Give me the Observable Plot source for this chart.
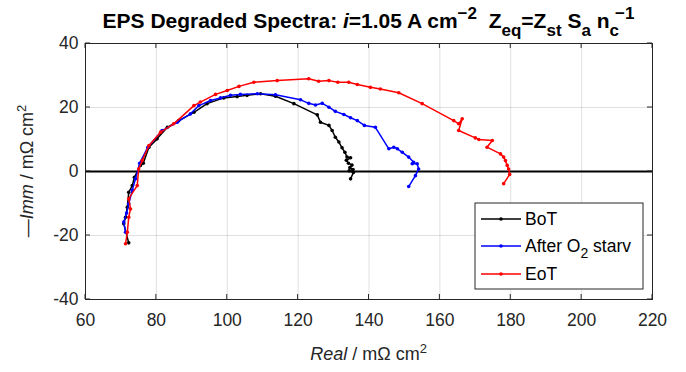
<!DOCTYPE html>
<html>
<head>
<meta charset="utf-8">
<script src="https://cdn.jsdelivr.net/npm/d3@7"></script>
<script src="https://cdn.jsdelivr.net/npm/@observablehq/plot@0.6"></script>
<style>
html,body{margin:0;padding:0;background:#fff;}
#chart{width:686px;height:372px;}
</style>
</head>
<body>
<div id="chart"></div>
<script>
const xTicks = [60, 80, 100, 120, 140, 160, 180, 200, 220];
const yTicks = [-40, -20, 0, 20, 40];
const seriesNames = ["BoT", "After O2 starv", "EoT"];
const seriesColors = ["#000000", "#0000ff", "#ff0000"];

const botX = [72.2,70.8,71.3,71.8,72.2,73.2,73.8,75.5,76.3,77.9,80.2,83.1,86.3,90.6,94.3,99,102.8,105.6,109.4,113.6,118.8,125.4,126.3,128.7,129.6,130.5,131.5,132.4,133.2,133.8,134.8,133.6,134.2,135.2,134.6,135.5,134.4,135.6,134.8];
const botY = [-22.3,-16.3,-14.3,-11.2,-6.5,-4.4,-1.8,1.9,2.6,7.6,10.2,13.8,15.9,18.5,21.2,23,23.4,23.8,24.3,23.5,21.2,17.7,15.4,14.4,12.8,10.7,9.2,7.4,6.0,4.5,4.3,3.5,2.6,2.0,1.2,0.6,0.2,-0.3,-2.3];

const o2X = [71.3,70.8,71.6,72.2,73.2,74.1,75.3,77.6,81.6,85.9,89.6,92,95.3,98.1,100.9,103.7,108.5,113.6,120.7,123,124.9,126.8,128.7,130.5,132.9,134.8,136.7,138.7,141.8,145.6,147,148,149.4,151.2,152.6,152.2,153.6,154,153.1,151.2];
const o2Y = [-19,-15.8,-13,-10.1,-5.9,-2.3,2.6,7.6,12.8,15.4,18,20.6,22.2,23,23.8,24.1,24.3,24,22.4,21.3,20.8,21.3,20.1,18.8,17.8,16.8,15.9,14.4,13.8,7.1,7.6,7.1,6.0,4.5,2.9,2.4,2.4,0.8,-1.3,-4.7];

const eotX = [71.3,71.8,72.2,72.7,72.2,74.6,75,76,77.9,81.2,84.9,90.6,92.4,96.7,100,103.3,107.5,114.1,123,125.8,128.7,131.2,134.3,136.7,140.4,143.2,148.4,155,163.9,165.3,166.3,165.3,170,171,174.8,173.3,177.1,178,178.5,179,179.4,179.7,178];
const eotY = [-22.6,-19,-14.3,-11.7,-8.5,-4.4,0.8,3.4,8.1,12.3,14.9,20.6,21.7,24.1,25.3,26.6,27.9,28.4,29,28.2,28.4,27.9,27.9,27.2,26.3,25.8,24.6,21.2,15.9,14.9,16.5,12.8,10.5,10,9.7,7.6,5.5,4.5,3.4,1.9,0.8,-0.9,-3.8];

const toRows = (xs, ys) => xs.map((x, i) => ({x, y: ys[i]}));
const series = [toRows(botX, botY), toRows(o2X, o2Y), toRows(eotX, eotY)];

const FONT = "'Liberation Sans', Arial, Helvetica, sans-serif";

const lineMarks = [];
series.forEach((rows, i) => {
  lineMarks.push(Plot.line(rows, {x: "x", y: "y", stroke: seriesColors[i], strokeWidth: 1.5}));
  lineMarks.push(Plot.dot(rows, {x: "x", y: "y", fill: seriesColors[i], r: 1.8}));
});

const plot = Plot.plot({
  width: 686,
  height: 372,
  marginLeft: 85,
  marginRight: 34,
  marginTop: 43,
  marginBottom: 73,
  x: {domain: [60, 220]},
  y: {domain: [-40, 40]},
  style: {fontFamily: FONT, fontSize: "17.5px", color: "#262626", background: "#fff", overflow: "visible"},
  marks: [
    Plot.gridX(xTicks, {stroke: "#000", strokeOpacity: 0.12}),
    Plot.gridY(yTicks, {stroke: "#000", strokeOpacity: 0.12}),
    Plot.ruleY([0], {stroke: "#000", strokeWidth: 2}),
    ...lineMarks,
    Plot.frame({stroke: "#262626", strokeWidth: 1}),
    Plot.axisX(xTicks, {tickSize: 0, tickPadding: 14, fontSize: 17.5, label: null, tickFormat: d => String(d)}),
    Plot.axisY(yTicks, {tickSize: 0, tickPadding: 7, fontSize: 17.5, label: null, tickFormat: d => String(d)})
  ]
});
document.getElementById("chart").appendChild(plot);

const sx = plot.scale("x"), sy = plot.scale("y");
const [x0, x1] = sx.range;
const [y0, y1] = sy.range; // y0 bottom, y1 top
const svg = d3.select(plot);
const tk = 5;
const g = svg.append("g").attr("stroke", "#262626").attr("stroke-width", 1);
xTicks.forEach(v => {
  const px = sx.apply(v);
  g.append("line").attr("x1", px).attr("x2", px).attr("y1", y0).attr("y2", y0 - tk);
  g.append("line").attr("x1", px).attr("x2", px).attr("y1", y1).attr("y2", y1 + tk);
});
yTicks.forEach(v => {
  const py = sy.apply(v);
  g.append("line").attr("y1", py).attr("y2", py).attr("x1", x0).attr("x2", x0 + tk);
  g.append("line").attr("y1", py).attr("y2", py).attr("x1", x1).attr("x2", x1 - tk);
});

// Title
const cx = (x0 + x1) / 2;
const title = svg.append("text").attr("x", cx).attr("y", 28).attr("text-anchor", "middle")
  .attr("font-family", FONT).attr("font-weight", "bold").attr("font-size", 21).attr("fill", "#000");
title.append("tspan").text("EPS Degraded Spectra: ");
title.append("tspan").attr("font-style", "italic").text("i");
title.append("tspan").text("=1.05 A cm");
title.append("tspan").attr("dy", -9).attr("font-size", 17).text("\u22122");
title.append("tspan").attr("dy", 9).text("  Z");
title.append("tspan").attr("dy", 8).attr("font-size", 17).text("eq");
title.append("tspan").attr("dy", -8).text("=Z");
title.append("tspan").attr("dy", 8).attr("font-size", 17).text("st");
title.append("tspan").attr("dy", -8).text(" S");
title.append("tspan").attr("dy", 8).attr("font-size", 17).text("a");
title.append("tspan").attr("dy", -8).text(" n");
title.append("tspan").attr("dy", 8).attr("font-size", 17).text("c");
title.append("tspan").attr("dy", -17).attr("dx", -4).attr("font-size", 17).text("\u22121");

// X label
const xl = svg.append("text").attr("x", cx).attr("y", 360).attr("text-anchor", "middle")
  .attr("font-family", FONT).attr("font-size", 18).attr("fill", "#262626");
xl.append("tspan").attr("font-style", "italic").text("Real");
xl.append("tspan").text(" / m\u03A9 cm");
xl.append("tspan").attr("dy", -7).attr("font-size", 13).text("2");

// Y label
const cy = (y0 + y1) / 2;
const yl = svg.append("text").attr("transform", `translate(33,${cy}) rotate(-90)`).attr("text-anchor", "middle")
  .attr("font-family", FONT).attr("font-size", 18).attr("fill", "#262626");
yl.append("tspan").text("\u2014");
yl.append("tspan").attr("font-style", "italic").text("Imm");
yl.append("tspan").text(" / m\u03A9 cm");
yl.append("tspan").attr("dy", -7).attr("font-size", 13).text("2");

// Legend
const lg = svg.append("g");
lg.append("rect").attr("x", 475).attr("y", 203).attr("width", 168).attr("height", 86)
  .attr("fill", "#fff").attr("stroke", "#262626").attr("stroke-width", 1);
const rowsY = [219, 246, 274];
seriesNames.forEach((name, i) => {
  const yy = rowsY[i];
  lg.append("line").attr("x1", 481).attr("x2", 521).attr("y1", yy).attr("y2", yy)
    .attr("stroke", seriesColors[i]).attr("stroke-width", 1.5);
  lg.append("circle").attr("cx", 501).attr("cy", yy).attr("r", 1.8).attr("fill", seriesColors[i]);
  const t = lg.append("text").attr("x", 525).attr("y", yy + 6).attr("text-anchor", "start")
    .attr("font-family", FONT).attr("font-size", 17.5).attr("fill", "#000");
  if (name === "After O2 starv") {
    t.append("tspan").text("After O");
    t.append("tspan").attr("dy", 6).attr("font-size", 14).text("2");
    t.append("tspan").attr("dy", -6).text(" starv");
  } else {
    t.text(name);
  }
});
</script>
</body>
</html>
